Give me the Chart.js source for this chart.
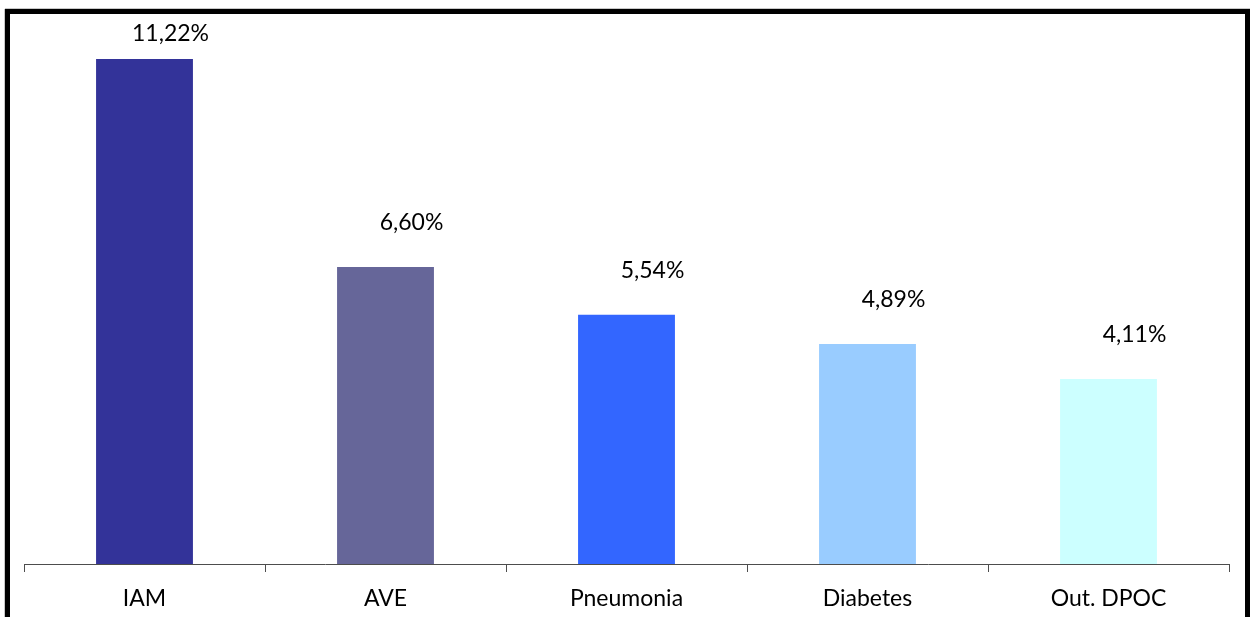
<!DOCTYPE html>
<html>
<head>
<meta charset="utf-8">
<script src="https://cdn.jsdelivr.net/npm/chart.js@4/dist/chart.umd.min.js"></script>
<style>
  html, body { margin: 0; padding: 0; background: #fff; overflow: hidden; }
  #wrap { position: relative; width: 1250px; height: 617px; }
  #frame {
    position: absolute; left: 5px; top: 9px; width: 1245px; height: 700px;
    box-sizing: border-box; border: 5px solid #000; border-bottom: none;
    box-shadow: 0 -1px 0 #c8c8c8, -1px 0 0 #c8c8c8;
    pointer-events: none;
  }
</style>
</head>
<body>
<div id="wrap">
  <canvas id="chart" width="1250" height="617"></canvas>
  <div id="frame"></div>
</div>
<script>
// Causas de internação e respectivas taxas (%)
const categories = ['IAM', 'AVE', 'Pneumonia', 'Diabetes', 'Out. DPOC'];
const rates = [11.22, 6.60, 5.54, 4.89, 4.11];
const barColors = ['#333399', '#666699', '#3366FF', '#99CCFF', '#CCFFFF'];

const FONT = 'Lato, "Open Sans", sans-serif';

// Rótulos de valor acima de cada barra, no formato pt-BR
const valueLabels = {
  id: 'valueLabels',
  afterDatasetsDraw(chart) {
    const ctx = chart.ctx;
    const meta = chart.getDatasetMeta(0);
    const area = chart.chartArea;
    ctx.save();
    ctx.font = '23px ' + FONT;
    ctx.fillStyle = '#000';
    ctx.textAlign = 'center';
    ctx.textBaseline = 'middle';
    meta.data.forEach((bar, i) => {
      const v = chart.data.datasets[0].data[i];
      const txt = v.toFixed(2).replace('.', ',') + '%';
      const y = Math.max(bar.y - 44, area.top + 10);
      ctx.fillText(txt, bar.x + 26, y);
    });
    ctx.restore();
  }
};

new Chart(document.getElementById('chart'), {
  type: 'bar',
  data: {
    labels: categories,
    datasets: [{
      data: rates,
      backgroundColor: barColors,
      borderWidth: 0,
      categoryPercentage: 1,
      barPercentage: 0.402
    }]
  },
  options: {
    responsive: false,
    animation: false,
    layout: { padding: { left: 24, right: 21, top: 24, bottom: 0 } },
    plugins: { legend: { display: false }, tooltip: { enabled: false } },
    scales: {
      y: { display: false, min: 0, max: 12 },
      x: {
        afterFit(scale) { scale.height = 53; },
        border: { display: true, color: '#4d4d4d', width: 1 },
        grid: { display: true, drawOnChartArea: false, drawTicks: true, tickLength: 8, color: '#4d4d4d', offset: true },
        ticks: { color: '#000', padding: 13, font: { family: FONT, size: 23 } }
      }
    }
  },
  plugins: [valueLabels]
});
</script>
</body>
</html>
